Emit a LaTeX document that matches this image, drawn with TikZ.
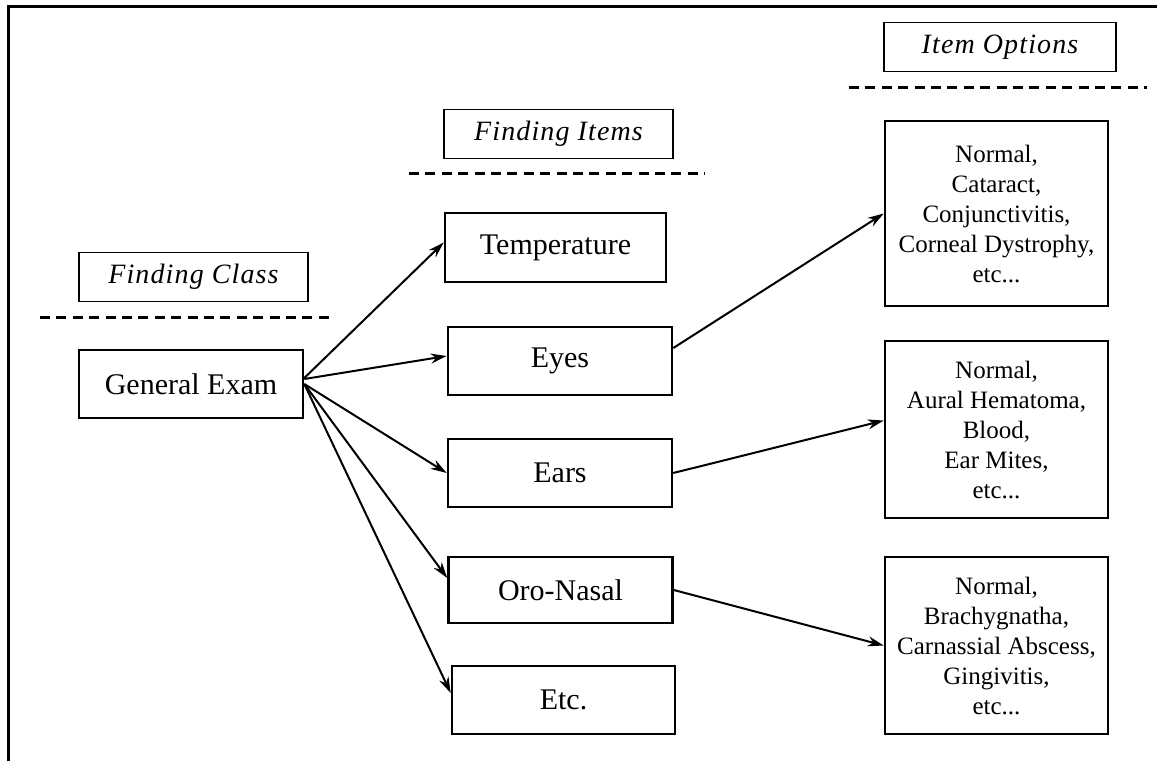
\documentclass[tikz,border=0pt]{standalone}
\usepackage{fontspec}
\setmainfont{Liberation Serif}
\newfontfamily\labelfont{Liberation Serif}[LetterSpace=4]
\usetikzlibrary{arrows.meta}

\begin{document}
\begin{tikzpicture}[x=1pt,y=-1pt,
    box/.style={draw,line width=2.6pt,inner sep=0pt,minimum width=224pt,minimum height=68pt,font=\fontsize{30}{36}\selectfont},
    optbox/.style={draw,line width=2.6pt,inner sep=0pt,align=center,minimum width=223pt,font=\fontsize{25}{30}\selectfont},
    head/.style={draw,line width=1.6pt,inner sep=0pt,minimum width=229pt,minimum height=49pt,font=\labelfont\itshape\fontsize{28}{30}\selectfont},
    sep/.style={line width=3pt,dash pattern=on 10pt off 6.4pt},
    arr/.style={-{Stealth[length=16pt,width=10pt]},line width=2pt}]
\useasboundingbox (0,0) rectangle (1157,761);
\draw[line width=3pt] (8,761) -- (8,6) -- (1157,6);

% column headings
\node[head] (HC) at (193.5,277) {Finding Class};
\node[head] (HI) at (558.5,134) {Finding Items};
\node[head,minimum width=232pt] (HO) at (1000,47) {Item Options};
\draw[sep] (40,317) -- (335,317);
\draw[sep] (409,173) -- (705,173);
\draw[sep] (849,87) -- (1147,87);

% class and items
\node[box] (GE) at (191,384) {General Exam};
\node[box,minimum width=221pt,minimum height=69pt] (T) at (555.5,247.5) {Temperature};
\node[box] (Ey) at (560,361) {Eyes};
\node[box] (Ea) at (560,473) {Ears};
\node[box,minimum height=66pt] (O) at (560.5,590) {Oro-Nasal};
\node[box,minimum width=223pt] (Et) at (563.5,700) {Etc.};

% options
\node[optbox,minimum height=185pt] (P1) at (996.5,213.5) {Normal,\\Cataract,\\Conjunctivitis,\\Corneal Dystrophy,\\etc...};
\node[optbox,minimum height=177pt] (P2) at (996.5,429.5) {Normal,\\Aural Hematoma,\\Blood,\\Ear Mites,\\etc...};
\node[optbox,minimum height=177pt] (P3) at (996.5,645.5) {Normal,\\Brachygnatha,\\Carnassial Abscess,\\Gingivitis,\\etc...};

\draw[arr] ([yshift=6pt]GE.east) -- ([yshift=5pt]T.west);
\draw[arr] ([yshift=5pt]GE.east) -- ([yshift=5pt]Ey.west);
\draw[arr] (GE.east) -- (Ea.west);
\draw[arr] (GE.east) -- ([yshift=12pt]O.west);
\draw[arr] (GE.east) -- ([yshift=7pt]Et.west);
\draw[arr] ([yshift=13pt]Ey.east) -- (P1.west);
\draw[arr] (Ea.east) -- ([yshift=9pt]P2.west);
\draw[arr] (O.east) -- (P3.west);
\end{tikzpicture}
\end{document}
